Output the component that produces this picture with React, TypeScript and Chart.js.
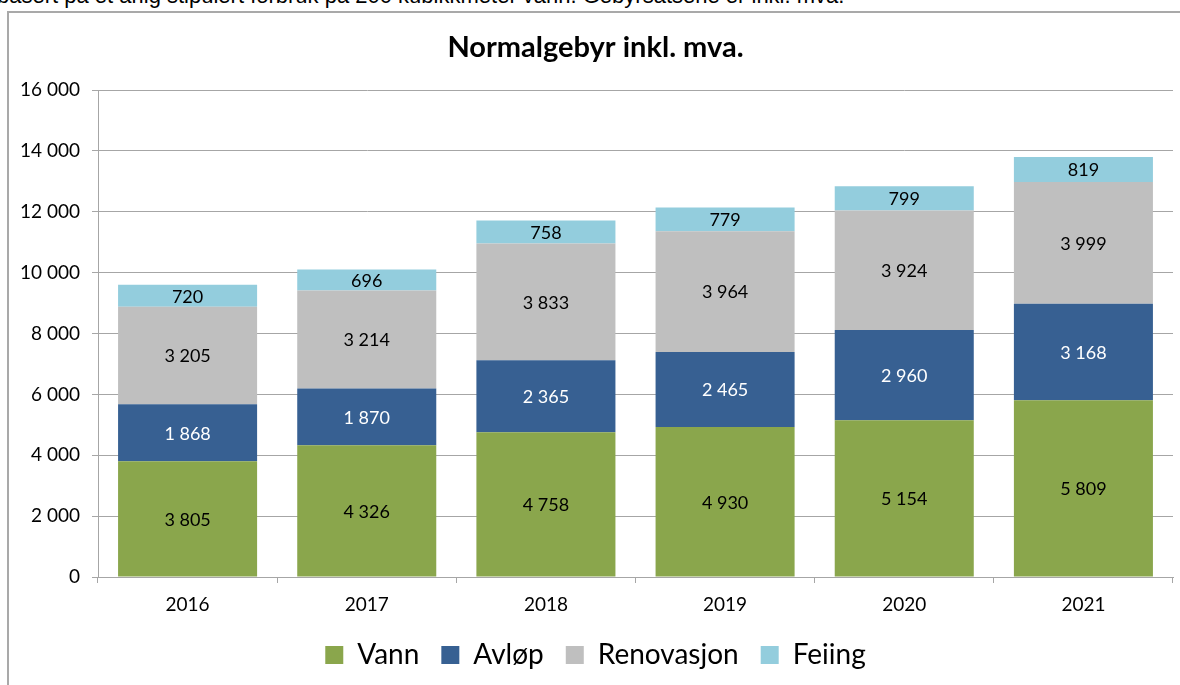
import React, { useEffect, useRef } from "react";
import { Chart, registerables } from "chart.js";

Chart.register(...registerables);

const years = ["2016", "2017", "2018", "2019", "2020", "2021"];
const vann = [3805, 4326, 4758, 4930, 5154, 5809];
const avlop = [1868, 1870, 2365, 2465, 2960, 3168];
const renovasjon = [3205, 3214, 3833, 3964, 3924, 3999];
const feiing = [720, 696, 758, 779, 799, 819];
const seriesNames = ["Vann", "Avløp", "Renovasjon", "Feiing"];
const seriesValues = [vann, avlop, renovasjon, feiing];
const seriesColors = ["#8AA64C", "#376092", "#BFBFBF", "#93CDDD"];
const labelColors = ["#000000", "#FFFFFF", "#000000", "#000000"];
const yMin = 0;
const yMax = 16000;
const yStep = 2000;
const titleText = "Normalgebyr inkl. mva.";
const topNote =
  "basert på et årlig stipulert forbruk på 200 kubikkmeter vann. Gebyrsatsene er inkl. mva.";

const FONT = "Lato, 'Open Sans', sans-serif";
const fmt = (v: number) =>
  String(Math.round(v)).replace(/\B(?=(\d{3})+(?!\d))/g, " ");

const W = 1180;
const H = 720;
const PAD_LEFT = 18;
const PAD_RIGHT = 7;
const PLOT_LEFT = 98;
const PLOT_BOTTOM = 577;
const LEGEND_FONT = 28;
const LEGEND_PAD = 22;
const LEGEND_CENTER = 655;
const LEGEND_TOP = LEGEND_CENTER - LEGEND_PAD - LEGEND_FONT / 2;
const LEGEND_BOTTOM = LEGEND_TOP + LEGEND_PAD + LEGEND_FONT + 10;

const barLabels = {
  id: "barLabels",
  afterDatasetsDraw(chart: any) {
    const ctx = chart.ctx;
    ctx.save();
    ctx.font = `18px ${FONT}`;
    ctx.textAlign = "center";
    ctx.textBaseline = "middle";
    chart.data.datasets.forEach((ds: any, i: number) => {
      const meta = chart.getDatasetMeta(i);
      meta.data.forEach((bar: any, j: number) => {
        const p = bar.getProps(["x", "y", "base"], true);
        ctx.fillStyle = labelColors[i];
        ctx.fillText(fmt(ds.data[j]), p.x, (p.y + p.base) / 2 + 1);
      });
    });
    ctx.restore();
  },
};

export default function App() {
  const ref = useRef<HTMLCanvasElement | null>(null);

  useEffect(() => {
    if (!ref.current) return;
    const chart = new Chart(ref.current, {
      type: "bar",
      data: {
        labels: years,
        datasets: seriesNames.map((name, i) => ({
          label: name,
          data: seriesValues[i],
          backgroundColor: seriesColors[i],
          borderWidth: 0,
          categoryPercentage: 1,
          barPercentage: 0.776,
        })),
      },
      options: {
        responsive: false,
        animation: false,
        devicePixelRatio: 1,
        layout: {
          padding: { left: PAD_LEFT, right: PAD_RIGHT, top: 0, bottom: H - LEGEND_BOTTOM },
        },
        plugins: {
          tooltip: { enabled: false },
          title: {
            display: true,
            text: titleText,
            color: "#000000",
            font: { family: FONT, size: 29, weight: "bold" },
            padding: { top: 30.6, bottom: 24.6 },
          },
          legend: {
            position: "bottom",
            labels: {
              boxWidth: 18,
              boxHeight: 18,
              padding: LEGEND_PAD,
              color: "#000000",
              font: { family: FONT, size: LEGEND_FONT },
            },
          },
        },
        scales: {
          x: {
            stacked: true,
            grid: {
              display: true,
              drawOnChartArea: false,
              tickLength: 6,
              color: "#A6A6A6",
              offset: true,
            },
            border: { color: "#A6A6A6", width: 1 },
            ticks: {
              color: "#000000",
              font: { family: FONT, size: 19 },
              padding: 10,
            },
            afterFit(scale: any) {
              scale.height = LEGEND_TOP - PLOT_BOTTOM;
            },
          },
          y: {
            stacked: true,
            min: yMin,
            max: yMax,
            ticks: {
              stepSize: yStep,
              color: "#000000",
              font: { family: FONT, size: 19 },
              padding: 12,
              callback: (v: any) => fmt(Number(v)),
            },
            grid: { color: "#A6A6A6", tickLength: 6 },
            border: { color: "#A6A6A6", width: 1 },
            afterFit(scale: any) {
              scale.width = PLOT_LEFT - PAD_LEFT;
            },
          },
        },
      },
      plugins: [barLabels],
    });
    return () => chart.destroy();
  }, []);

  return (
    <div
      style={{
        position: "fixed",
        left: 0,
        top: 0,
        width: 1180,
        height: 685,
        overflow: "hidden",
        background: "#ffffff",
      }}
    >
      <div
        style={{
          position: "absolute",
          left: -3,
          top: -17,
          whiteSpace: "nowrap",
          font: "22px 'Liberation Sans', Arial, sans-serif",
          color: "#000",
        }}
      >
        {topNote}
      </div>
      <div
        style={{
          position: "absolute",
          left: 7,
          top: 11,
          width: 1300,
          height: 800,
          borderLeft: "2px solid #A9A9A9",
          borderTop: "2px solid #A9A9A9",
        }}
      />
      <canvas
        ref={ref}
        width={W}
        height={H}
        style={{ position: "absolute", left: 0, top: 0 }}
      />
    </div>
  );
}
